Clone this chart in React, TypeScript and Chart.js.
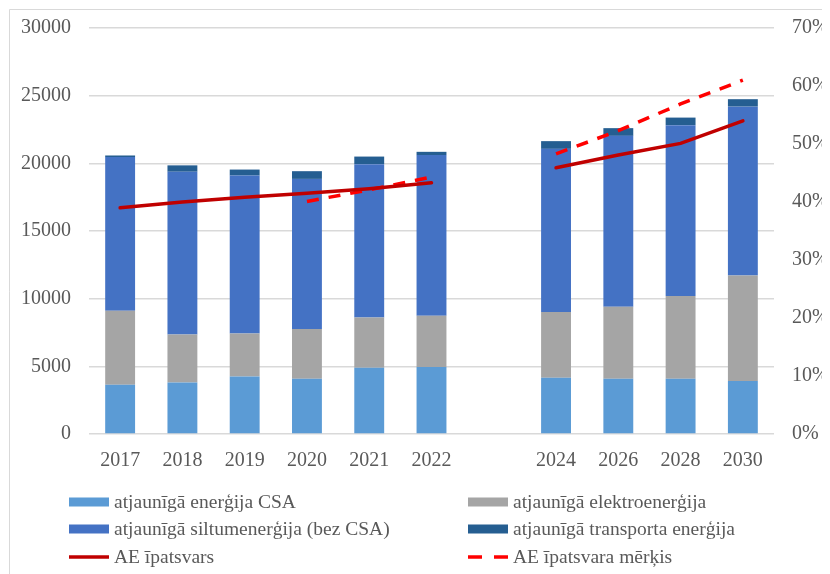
import React, { useEffect, useRef } from "react";
import { Chart, registerables } from "chart.js";

Chart.register(...registerables);

const categories = ["2017", "2018", "2019", "2020", "2021", "2022", "", "2024", "2026", "2028", "2030"];
const csaValues = [3640, 3810, 4250, 4080, 4900, 4950, null, 4160, 4080, 4080, 3910];
const elektroValues = [5470, 3550, 3180, 3670, 3710, 3790, null, 4850, 5320, 6110, 7800];
const siltumValues = [11350, 12020, 11670, 11100, 11330, 11870, null, 12060, 12630, 12630, 12480];
const transportValues = [120, 470, 440, 570, 560, 240, null, 570, 570, 560, 550];
const shareValues = [0.39, 0.4, 0.408, 0.415, 0.423, 0.433, null, 0.459, 0.481, 0.501, 0.54];
const targetValues = [null, null, null, 0.401, 0.421, 0.443, null, 0.483, 0.523, 0.569, 0.61];

const seriesLabels = [
  "atjaunīgā enerģija CSA",
  "atjaunīgā elektroenerģija",
  "atjaunīgā siltumenerģija (bez CSA)",
  "atjaunīgā transporta enerģija",
  "AE īpatsvars",
  "AE īpatsvara mērķis",
];

const FONT = '"Liberation Serif", "DejaVu Serif", serif';
const TEXT = "#595959";
const GRID = "#d9d9d9";

const legendPlugin = {
  id: "gridLegend",
  afterDraw(chart: any) {
    const ctx = chart.ctx as CanvasRenderingContext2D;
    const colX = [61, 460];
    const rowY = [494, 521, 549];
    ctx.save();
    ctx.font = `19.5px ${FONT}`;
    ctx.fillStyle = TEXT;
    ctx.textBaseline = "middle";
    ctx.textAlign = "left";
    chart.data.datasets.forEach((ds: any, i: number) => {
      const x = colX[i % 2];
      const y = rowY[Math.floor(i / 2)];
      if (ds.type === "line") {
        ctx.save();
        ctx.strokeStyle = ds.borderColor;
        ctx.lineWidth = 3.5;
        ctx.setLineDash(ds.borderDash && ds.borderDash.length ? [14, 12] : []);
        ctx.beginPath();
        ctx.moveTo(x, y);
        ctx.lineTo(x + 40, y);
        ctx.stroke();
        ctx.restore();
      } else {
        ctx.fillStyle = ds.backgroundColor;
        ctx.fillRect(x, y - 4.5, 40, 9);
      }
      ctx.fillStyle = TEXT;
      ctx.fillText(ds.label, x + 45, y + 1);
    });
    ctx.restore();
  },
};

const framePlugin = {
  id: "frame",
  beforeDraw(chart: any) {
    const ctx = chart.ctx as CanvasRenderingContext2D;
    ctx.save();
    ctx.fillStyle = "#ffffff";
    ctx.fillRect(0, 0, chart.width, chart.height);
    ctx.strokeStyle = GRID;
    ctx.lineWidth = 1;
    ctx.beginPath();
    ctx.moveTo(1.5, chart.height);
    ctx.lineTo(1.5, 1.5);
    ctx.lineTo(chart.width, 1.5);
    ctx.stroke();
    ctx.restore();
  },
};

export default function App() {
  const ref = useRef<HTMLCanvasElement | null>(null);

  useEffect(() => {
    document.documentElement.style.overflow = "hidden";
    document.body.style.overflow = "hidden";
    if (!ref.current) return;
    Chart.defaults.font.family = FONT;
    Chart.defaults.color = TEXT;
    const barCommon = {
      type: "bar" as const,
      yAxisID: "y",
      order: 2,
      barPercentage: 0.48,
      categoryPercentage: 1,
      borderWidth: 0,
    };
    const chart = new Chart(ref.current, {
      type: "bar",
      data: {
        labels: categories,
        datasets: [
          { ...barCommon, label: seriesLabels[0], data: csaValues, backgroundColor: "#5B9BD5" },
          { ...barCommon, label: seriesLabels[1], data: elektroValues, backgroundColor: "#A5A5A5" },
          { ...barCommon, label: seriesLabels[2], data: siltumValues, backgroundColor: "#4472C4" },
          { ...barCommon, label: seriesLabels[3], data: transportValues, backgroundColor: "#255E91" },
          {
            type: "line",
            label: seriesLabels[4],
            data: shareValues,
            yAxisID: "y1",
            order: 0,
            borderColor: "#C00000",
            backgroundColor: "#C00000",
            borderWidth: 3.5,
            pointRadius: 0,
            borderDash: [],
            spanGaps: false,
            tension: 0,
            borderCapStyle: "round",
          },
          {
            type: "line",
            label: seriesLabels[5],
            data: targetValues,
            yAxisID: "y1",
            order: 0,
            borderColor: "#FF0000",
            backgroundColor: "#FF0000",
            borderWidth: 3.5,
            borderDash: [12, 10],
            pointRadius: 0,
            spanGaps: false,
            tension: 0,
          },
        ] as any,
      },
      options: {
        responsive: false,
        animation: false,
        layout: { padding: { top: 20, left: 0, right: 0, bottom: 0 } },
        plugins: { legend: { display: false }, tooltip: { enabled: false } },
        scales: {
          x: {
            stacked: true,
            grid: { display: false },
            border: { display: false },
            ticks: { font: { size: 20 }, color: TEXT, padding: 7, autoSkip: false, maxRotation: 0 },
            afterFit: (s: any) => {
              s.height = 140;
            },
          },
          y: {
            stacked: true,
            position: "left",
            min: 0,
            max: 30000,
            ticks: {
              stepSize: 5000,
              font: { size: 20 },
              color: TEXT,
              padding: 18,
              callback: (v: any) => String(v),
            },
            grid: { color: GRID, lineWidth: 1.5, drawTicks: false },
            border: { display: false },
            afterFit: (s: any) => {
              s.width = 81;
              s.paddingTop = 0;
              s.paddingBottom = 0;
            },
          },
          y1: {
            position: "right",
            min: 0,
            max: 0.7,
            ticks: {
              stepSize: 0.1,
              font: { size: 20 },
              color: TEXT,
              padding: 18,
              callback: (v: any) => `${Math.round(Number(v) * 100)}%`,
            },
            grid: { drawOnChartArea: false, drawTicks: false },
            border: { display: false },
            afterFit: (s: any) => {
              s.width = 56;
              s.paddingTop = 0;
              s.paddingBottom = 0;
            },
          },
        },
      } as any,
      plugins: [framePlugin, legendPlugin],
    });
    return () => chart.destroy();
  }, []);

  return (
    <div style={{ width: 822, height: 566 }}>
      <canvas ref={ref} width={822} height={566} style={{ display: "block" }} />
    </div>
  );
}
